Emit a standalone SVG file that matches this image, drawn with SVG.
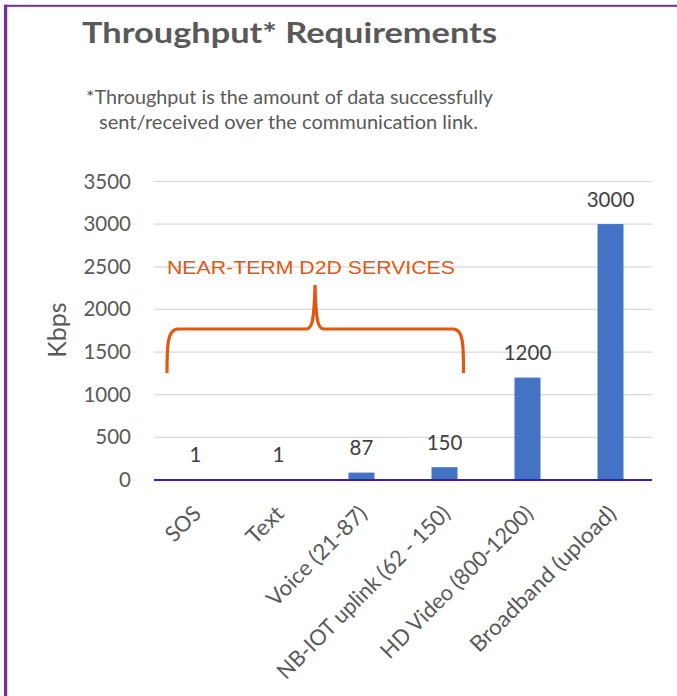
<svg xmlns="http://www.w3.org/2000/svg" width="677" height="696" viewBox="0 0 677 696">
<style>
.t{font-family:Lato,"Open Sans","Liberation Sans",sans-serif;fill:#595959}
.tick{font-size:20.5px;text-anchor:end}
.val{font-size:20.5px;text-anchor:middle;fill:#404040}
.cat{font-size:22px;text-anchor:end}
.grid{stroke:#D9D9D9;stroke-width:1.2}
.bar{fill:#4472C4}
</style>
<rect width="677" height="696" fill="#fff"/>
<rect x="4" y="4.8" width="673" height="2" fill="#7030A0"/>
<rect x="4" y="4.8" width="3.2" height="692" fill="#7030A0"/>
<g id="title">
<text class="t" x="82" y="43" font-size="29" font-weight="bold" textLength="415" lengthAdjust="spacingAndGlyphs">Throughput* Requirements</text>
</g>
<g id="footnote">
<text class="t" x="289.5" y="104" font-size="18.5" text-anchor="middle" textLength="407" lengthAdjust="spacingAndGlyphs">*Throughput is the amount of data successfully</text>
<text class="t" x="288.5" y="129" font-size="18.5" text-anchor="middle" textLength="379" lengthAdjust="spacingAndGlyphs">sent/received over the communication link.</text>
</g>
<g id="gridlines">
<line class="grid" x1="154" y1="437.4" x2="652" y2="437.4"/>
<line class="grid" x1="154" y1="394.7" x2="652" y2="394.7"/>
<line class="grid" x1="154" y1="352.1" x2="652" y2="352.1"/>
<line class="grid" x1="154" y1="309.4" x2="652" y2="309.4"/>
<line class="grid" x1="154" y1="266.8" x2="652" y2="266.8"/>
<line class="grid" x1="154" y1="224.1" x2="652" y2="224.1"/>
<line class="grid" x1="154" y1="181.5" x2="652" y2="181.5"/>
</g>
<g id="y-axis">
<text class="t tick" x="131" y="487">0</text>
<text class="t tick" x="131" y="444.4">500</text>
<text class="t tick" x="131" y="401.7">1000</text>
<text class="t tick" x="131" y="359.1">1500</text>
<text class="t tick" x="131" y="316.4">2000</text>
<text class="t tick" x="131" y="273.8">2500</text>
<text class="t tick" x="131" y="231.1">3000</text>
<text class="t tick" x="131" y="188.5">3500</text>
<text class="t" transform="translate(66,330) rotate(-90)" font-size="25" text-anchor="middle">Kbps</text>
</g>
<g id="bars">
<rect class="bar" x="348.5" y="472.6" width="26" height="7.4"/>
<rect class="bar" x="431.5" y="467.2" width="26" height="12.8"/>
<rect class="bar" x="514.5" y="377.6" width="26" height="102.4"/>
<rect class="bar" x="597.5" y="224.1" width="26" height="255.9"/>
</g>
<g id="values">
<text class="t val" x="195.5" y="461.7">1</text>
<text class="t val" x="278.5" y="461.7">1</text>
<text class="t val" x="361.5" y="455">87</text>
<text class="t val" x="444.5" y="450">150</text>
<text class="t val" x="527.5" y="360">1200</text>
<text class="t val" x="610.5" y="206.6">3000</text>
</g>
<g id="connectors">
<line x1="154" y1="480" x2="652" y2="480" stroke="#3F1FA0" stroke-width="2.2"/>
</g>
<g id="categories">
<text class="t cat" transform="translate(202.5,515) rotate(-45)" textLength="40" lengthAdjust="spacingAndGlyphs">SOS</text>
<text class="t cat" transform="translate(285.5,515) rotate(-45)" textLength="43" lengthAdjust="spacingAndGlyphs">Text</text>
<text class="t cat" transform="translate(368.5,515) rotate(-45)" textLength="131" lengthAdjust="spacingAndGlyphs">Voice (21-87)</text>
<text class="t cat" transform="translate(451.5,515) rotate(-45)" textLength="234" lengthAdjust="spacingAndGlyphs">NB-IOT uplink (62 - 150)</text>
<text class="t cat" transform="translate(534.5,515) rotate(-45)" textLength="205" lengthAdjust="spacingAndGlyphs">HD Video (800-1200)</text>
<text class="t cat" transform="translate(617.5,515) rotate(-45)" textLength="196" lengthAdjust="spacingAndGlyphs">Broadband (upload)</text>
</g>
<g id="brace">
<path d="M167,373 C167,345 167.5,329 178,329 L306,329 C312,329 314,322 315,285 C316,322 318,329 324,329 L453,329 C463.5,329 463.5,345 463.5,373" fill="none" stroke="#E5560E" stroke-width="3.2"/>
<text x="311" y="274" font-family="'Liberation Sans',Arial,sans-serif" font-size="19" fill="#E5560E" text-anchor="middle" textLength="288" lengthAdjust="spacingAndGlyphs">NEAR-TERM D2D SERVICES</text>
</g>
</svg>
